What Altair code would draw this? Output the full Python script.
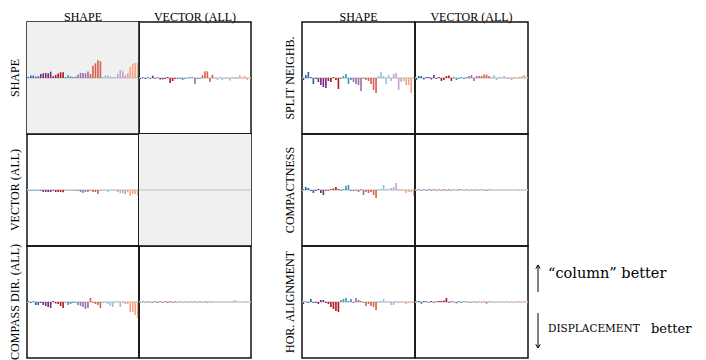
import altair as alt
import pandas as pd

FONT = "Liberation Serif"
ANN_FONT = "DejaVu Serif"

GROUP_COLORS = ["#2166ac", "#762a83", "#b2182b", "#4393c3", "#9970ab",
                "#d6604d", "#92c5de", "#c2a5cf", "#f4a582"]
BARS_PER_GROUP = 5

LEFT_ROWS = ["SHAPE", "VECTOR (ALL)", "COMPASS DIR. (ALL)"]
RIGHT_ROWS = ["SPLIT NEIGHB.", "COMPACTNESS", "HOR. ALIGNMENT"]
COLS = ["SHAPE", "VECTOR (ALL)"]

# difference scores per configuration (positive: "column" better)
L_shape_shape = [1, 2.5, 2.5, 1.3, 1.7, 4, 4.7, 5, 4.7, 6.3, 1.7, 3, 4.5, 5.7, 5.7,
                 1, 2.7, 1.7, 1, 1.3, 3.3, 5, 5, 4.7, 6.5, 4, 12.3, 14.7, 17.7, 16.7,
                 1, 2.7, 2.7, 1.7, 1, 1, 4.3, 8, 6.7, 3, 5, 11, 14.3, 15, 15.3]
L_shape_vector = [-1, 0.7, -1, 0.7, -0.7, 2.3, -0.7, 0.5, -1.5, -1.5, -1, 1, -5, -3, -1,
                  -1, -1, -2, -1, 0.5, 1, 0.7, -6, -1, -0.7, 2.7, 6.7, 6.7, -4, 3.3,
                  -1, -2, 0.7, -2, -0.7, -1, -2.5, 1, 1, -1, 2.7, -1, 2, -2, 0.7]
L_vector_shape = [-0.5, -0.5, -0.5, -0.5, -0.5, -0.7, -2, -2, -2, -2, -0.7, -2, -2, -2, -2.3,
                  -0.5, -0.5, -0.5, -0.5, -0.7, -0.7, -2, -3, -2, -2, -0.7, -2, -2, -4, -0.5,
                  -0.5, -0.5, -2, -0.5, -0.5, -1, -2, -3, -3.3, -4.3, -2.3, -6, -4, -4, -5.5]
L_vector_vector = [0] * 45
L_compass_shape = [1, -1, 0.7, -3, -3, -1, -3, -4, -5, -6, 1, -1.5, -2, -4, -6,
                   -0.5, -3, -2, -1, -1, -3, -4, -5, -7, -6, 4, -1, -2, -3, -6,
                   -1, -0.7, -2, -4, -5, 0.7, 0.7, -5, -1, -2, -2, -10, -10, -13, -16]
L_compass_vector = [-0.5, 0.5, -0.5, 0.5, -0.5, -0.5, 0.5, -0.7, 0.5, -0.5, 0.5, -0.7, 0.5, -0.5, 0.5,
                    -0.5, 0.5, -0.5, 0.5, -0.5, 0.5, -0.5, 0.5, -0.5, 0.5, -0.5, 0.5, -0.7, 0.5, -0.5,
                    0.5, -0.5, 0.5, -0.5, 0.5, -0.5, 0.5, 1, 2, 0.5, -0.5, 0.5, -0.5, 1, 0.5]
R_split_shape = [-2, 3, 6, 1, -6, -1, -4, -7, -9, -10, -3, -4, 1, -2, -11,
                 -1, 2, 4, -6, -2, -4, -6, -7, -13, -1, -2, -3, -6, -12, -15,
                 2, 6, 2, -6, 3, -3, 4, 5, -12, -4, -3, -7, -7, -15, 1]
R_split_vector = [-2, 2, 2, -1.5, 1, 1, -1.5, 3, -1, 1, -3, -2, 2, 2.5, -3,
                  1, -2, -1, 1, -1, 1, 2, 3, -3, 2, 2, 2, 3.5, 3.5, 2,
                  1, 3, -2, 1, 1, 2, -1, -1, -2, 1, -1, 1, 2, 3, 1]
R_compact_shape = [1, 3, 2, -1, -3, -1, 1, -3, -5, -0.7, -0.7, 0.7, 1.5, 3, 1,
                   -1, 1, 4, 5, -1, -1, -0.7, -2, 1, -5, -2, -3, -2, -5, -8,
                   1, 1, 5, 1, 1, 2, 3, 7, 1, -1, -1, -3, -2, -2, -6]
R_compact_vector = [-0.5, 0.5, -0.5, 0.5, -0.5, 0.5, -0.5, 0.5, -0.5, 0.5, -0.5, 0.5, -0.5, 0.5, -0.5,
                    0.5, -0.5, 1, 0.5, -0.5, 0.5, -0.5, 0.5, -0.5, 0.5, -0.5, 0.5, -0.5, -1, 0.5,
                    0.5, -0.5, 0.5, -0.5, 0.5, -0.5, 0.5, -0.5, 0.5, -0.5, 0.5, -1, 0.5, -0.5, 0.5]
R_horal_shape = [-2, 0.5, -1, 3, -1, -1, -2, 2, 2, -1, -2, -5, -7, -9, -10,
                 2, 3, 4, 1, 3, -1, 4, 2, 1, -1, -4, -2, -4, -5, -8,
                 -1, 1, 3, -1, 0.5, -3, -3, 1, -1, 0.5, -1, -2, -1, -0.5, -1]
R_horal_vector = [0.7, 1, -1.7, 1, 0.7, -0.5, 1, -0.7, 0.5, 1, 1, 1.5, 4, -0.7, 0.7,
                  -0.5, -1.5, 1, -1, 0.7, 0.5, -0.7, -0.5, 0.5, -0.7, 0.5, -0.5, 0.5, -1.7, 0.5,
                  1, -1, 0.7, -0.5, 1, -0.5, 1, -0.7, 0.5, -0.5, 0.5, 1, -0.5, 1, -0.5]

LEFT_PANELS = {
    ("SHAPE", "SHAPE"): L_shape_shape,
    ("SHAPE", "VECTOR (ALL)"): L_shape_vector,
    ("VECTOR (ALL)", "SHAPE"): L_vector_shape,
    ("VECTOR (ALL)", "VECTOR (ALL)"): L_vector_vector,
    ("COMPASS DIR. (ALL)", "SHAPE"): L_compass_shape,
    ("COMPASS DIR. (ALL)", "VECTOR (ALL)"): L_compass_vector,
}
RIGHT_PANELS = {
    ("SPLIT NEIGHB.", "SHAPE"): R_split_shape,
    ("SPLIT NEIGHB.", "VECTOR (ALL)"): R_split_vector,
    ("COMPACTNESS", "SHAPE"): R_compact_shape,
    ("COMPACTNESS", "VECTOR (ALL)"): R_compact_vector,
    ("HOR. ALIGNMENT", "SHAPE"): R_horal_shape,
    ("HOR. ALIGNMENT", "VECTOR (ALL)"): R_horal_vector,
}

YDOM = [-56, 56]


def build(panels):
    recs = []
    for (r, c), vals in panels.items():
        diag = 1 if r == c else 0
        for i, v in enumerate(vals):
            recs.append({"row": r, "col": c, "idx": i, "group": i // BARS_PER_GROUP,
                         "value": v, "diag": diag, "zero": 0,
                         "lo": YDOM[0], "hi": YDOM[1]})
    return pd.DataFrame(recs)


def grid(df, rows, w):
    yscale = alt.Scale(domain=YDOM)
    bg = alt.Chart().transform_filter(
        "datum.diag == 1 && datum.idx == 0"
    ).mark_rect(color="#f0f0f0").encode(
        x=alt.value(0), x2=alt.value(w),
        y=alt.Y("lo:Q", axis=None, scale=yscale), y2="hi:Q",
    )
    base = alt.Chart().mark_rule(
        color="#d0d0d0", strokeWidth=1.5
    ).encode(
        x=alt.value(0), x2=alt.value(w),
        y=alt.Y("zero:Q", axis=None, scale=yscale),
    ).transform_filter("datum.idx == 0")
    bars = alt.Chart().mark_bar().encode(
        x=alt.X("idx:O", axis=None, scale=alt.Scale(paddingInner=0.35, paddingOuter=0.2)),
        y=alt.Y("value:Q", axis=None, scale=yscale),
        color=alt.Color("group:N", legend=None,
                        scale=alt.Scale(domain=list(range(9)), range=GROUP_COLORS)),
    )
    layered = alt.layer(bg, base, bars).properties(width=w, height=112)
    return layered.facet(
        data=df,
        row=alt.Row("row:N", sort=rows, header=alt.Header(
            title=None, labelFont=FONT, labelFontSize=12, labelAngle=-90,
            labelOrient="left", labelPadding=0, labelColor="black")),
        column=alt.Column("col:N", sort=COLS, header=alt.Header(
            title=None, labelFont=FONT, labelFontSize=12, labelPadding=-2,
            labelColor="black")),
        spacing=0,
        bounds="flush",
    )


left = grid(build(LEFT_PANELS), LEFT_ROWS, 112)
right = grid(build(RIGHT_PANELS), RIGHT_ROWS, 113)

ann = pd.DataFrame({
    "label": ["“column” better", "DISPLACEMENT", "better"],
    "tx": [14, 14, 117],
    "ty": [252, 307, 307],
    "size": [14.5, 10.5, 13],
})
yann = alt.Scale(domain=[0, 336], range=[0, 336])
xann = alt.Scale(domain=[0, 160], range=[0, 160])
up_line = alt.Chart(ann).transform_filter("datum.ty == 252").mark_rule(
    color="black", strokeWidth=1).encode(
    x=alt.value(4), y=alt.value(243), y2=alt.value(270))
up_head = alt.Chart(ann).transform_filter("datum.ty == 252").mark_point(
    shape="M-0.6,1L0,0L0.6,1", size=55, filled=False,
    color="black", strokeWidth=1, opacity=1).encode(
    x=alt.value(4), y=alt.value(243))
dn_line = alt.Chart(ann).transform_filter("datum.label == 'better'").mark_rule(
    color="black", strokeWidth=1).encode(
    x=alt.value(4), y=alt.value(291), y2=alt.value(326))
dn_head = alt.Chart(ann).transform_filter("datum.label == 'better'").mark_point(
    shape="M-0.6,-1L0,0L0.6,-1", size=55, filled=False,
    color="black", strokeWidth=1, opacity=1).encode(
    x=alt.value(4), y=alt.value(326))
texts = alt.Chart(ann).mark_text(align="left", baseline="middle", font=ANN_FONT,
                                 color="black").encode(
    x=alt.X("tx:Q", axis=None, scale=xann),
    y=alt.Y("ty:Q", axis=None, scale=yann),
    size=alt.Size("size:Q", scale=None, legend=None),
    text="label:N")
annot = alt.layer(up_line, up_head, dn_line, dn_head, texts).properties(
    width=158, height=336, view=alt.ViewBackground(stroke="transparent"))

grids = alt.hconcat(left, right, spacing=30)
chart = alt.hconcat(grids, annot, spacing=3).properties(
    padding={"left": 0, "top": 3, "right": 0, "bottom": 0}
).configure_view(
    stroke="#111111", strokeWidth=1.5
)

chart.save("out.html", embed_options={"renderer": "svg", "actions": False})
